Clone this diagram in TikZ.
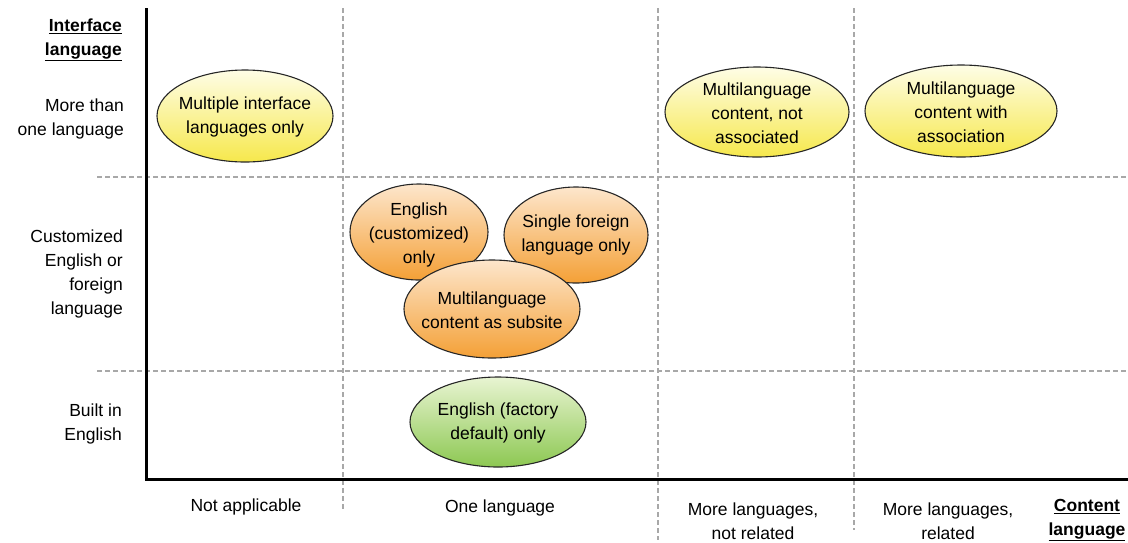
\documentclass[tikz,border=0pt]{standalone}
\usepackage{fontspec}
\setmainfont{Liberation Sans}
\usetikzlibrary{shapes.geometric}

\definecolor{gridgray}{HTML}{A8A8A8}
\definecolor{yeltop}{HTML}{FEFDE6}
\definecolor{yelbot}{HTML}{F6E84C}
\definecolor{orgtop}{HTML}{FDE6CC}
\definecolor{orgbot}{HTML}{F4A036}
\definecolor{grntop}{HTML}{E8F4D2}
\definecolor{grnbot}{HTML}{8DC852}

\tikzset{
  txt/.style={font=\fontsize{17.5}{24}\selectfont, inner sep=0pt},
  boldtxt/.style={font=\fontsize{17.5}{24}\selectfont\bfseries, inner sep=0pt},
  rowlabel/.style={txt, align=right, anchor=east},
  collabel/.style={txt, align=center},
  gridline/.style={draw=gridgray, line width=2pt, dash pattern=on 5pt off 3pt},
  axis/.style={draw=black, line width=3pt},
  bubble/.style={ellipse, draw=black!85, line width=1.1pt, inner sep=0pt,
    minimum width=2*#1},
  bubbletext/.style={txt, align=center},
  yel/.style={shading=axis, top color=yeltop, bottom color=yelbot},
  org/.style={shading=axis, top color=orgtop, bottom color=orgbot},
  grn/.style={shading=axis, top color=grntop, bottom color=grnbot},
}

\begin{document}
\begin{tikzpicture}[x=1pt, y=-1pt]
  \useasboundingbox (0,0) rectangle (1128,542);

  % grid
  \draw[gridline] (97,177) -- (1128,177);
  \draw[gridline] (97,371) -- (1128,371);
  \draw[gridline] (343,8) -- (343,510);
  \draw[gridline] (658,8) -- (658,540);
  \draw[gridline] (854,8) -- (854,530);

  % axes
  \coordinate (origin) at (146,479);
  \coordinate (ytop) at (146,8);
  \coordinate (xend) at (1128,479);
  \draw[axis] (ytop) -- (origin) -- (xend);

  % row labels
  \node[boldtxt, align=right, anchor=east] (ylab) at (122,40)
    {\underline{Interface}\\\underline{language}};
  \node[rowlabel] (r1) at (124,119) {More than\\one language};
  \node[rowlabel] (r2) at (123,274) {Customized\\English or\\foreign\\language};
  \node[rowlabel] (r3) at (122,424) {Built in\\English};

  % column labels
  \node[collabel] (c1) at (246,507) {Not applicable};
  \node[collabel] (c2) at (500,508) {One language};
  \node[collabel] (c3) at (753,521) {More languages,\\not related};
  \node[collabel] (c4) at (948,521) {More languages,\\related};
  \node[boldtxt, align=center] (xlab) at (1087,520)
    {\underline{Content}\\\underline{language}};

  % bubbles: top row
  \node[bubble=88, minimum height=92, yel] (multiif) at (245,116) {};
  \node[bubbletext] (multiif-t) at (245,117) {Multiple interface\\languages only};
  \node[bubble=92, minimum height=90, yel] (notassoc) at (757,112) {};
  \node[bubbletext] (notassoc-t) at (757,113) {Multilanguage\\content, not\\associated};
  \node[bubble=96, minimum height=92, yel] (assoc) at (961,111) {};
  \node[bubbletext] (assoc-t) at (961,112) {Multilanguage\\content with\\association};

  % bubbles: middle row
  \node[bubble=69, minimum height=96, org] (engcust) at (419,232) {};
  \node[bubbletext] (engcust-t) at (419,235) {English\\(customized)\\only};
  \node[bubble=72, minimum height=96, org] (single) at (576,235) {};
  \node[bubbletext] (single-t) at (576,235) {Single foreign\\language only};
  \node[bubble=88, minimum height=98, org] (subsite) at (492,309) {};
  \node[bubbletext] (subsite-t) at (492,310) {Multilanguage\\content as subsite};

  % bubbles: bottom row
  \node[bubble=88, minimum height=90, grn] (factory) at (498,422) {};
  \node[bubbletext] (factory-t) at (498,423) {English (factory\\default) only};
\end{tikzpicture}
\end{document}
